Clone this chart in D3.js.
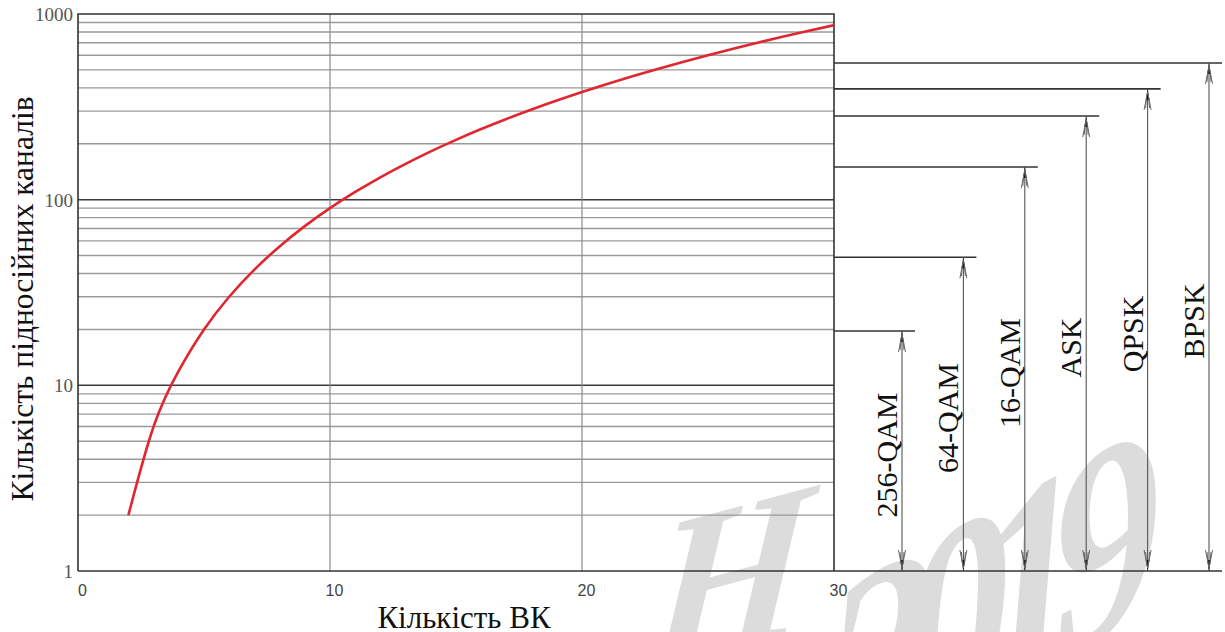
<!DOCTYPE html>
<html>
<head>
<meta charset="utf-8">
<script src="https://cdn.jsdelivr.net/npm/d3@7"></script>
<style>
  body { margin: 0; background: #fff; }
  svg { display: block; }
</style>
</head>
<body>
<svg></svg>
<script>
var width = 1225
var height = 632

// number of VK (x) and number of subcarriers (y)
var vkCount = [2, 3, 4, 5, 6, 7, 8, 9, 10, 11, 12, 13, 14, 15, 16, 17, 18, 19, 20, 21, 22, 23, 24, 25, 26, 27, 28, 29, 30]
var subcarriers = [2, 6, 12, 20, 30, 42, 56, 72, 90, 110, 132, 156, 182, 210, 240, 272, 306, 342, 380, 420, 462, 506, 552, 600, 650, 702, 756, 812, 870]

// modulation limits shown on the right
var modulations = ["256-QAM", "64-QAM", "16-QAM", "ASK", "QPSK", "BPSK"]
var modLimits = [19.6, 49, 150, 282, 395, 545]

var xTicks = [0, 10, 20, 30]
var yTicks = [1, 10, 100, 1000]

var xTitle = "Кількість ВК"
var yTitle = "Кількість підносійних каналів"
var watermarkA = "Н"
var watermarkB = "2019"

var plotLeft = 78, plotRight = 834, plotTop = 14, plotBottom = 571

var x = d3.scaleLinear().domain([0, 30]).range([plotLeft, plotRight])
var y = d3.scaleLog().domain([1, 1000]).range([plotBottom, plotTop])
var xMod = d3.scalePoint().domain(modulations).range([902, 1209])

var svg = d3.select("svg")
  .attr("width", width)
  .attr("height", height)

// watermark behind everything
var wm = svg.append("g")
  .style("font-family", "'Liberation Serif', serif")
  .style("font-style", "italic")
  .style("font-weight", "bold")
  .attr("fill", "#dcdcdc")

wm.append("text")
  .attr("transform", "translate(645,674) rotate(-15) skewX(-20)")
  .style("font-size", "210px")
  .text(watermarkA)

wm.append("text")
  .attr("transform", "translate(830,783) rotate(-28) skewX(-25)")
  .style("font-size", "250px")
  .style("letter-spacing", "-40px")
  .text(watermarkB)

// horizontal grid lines, 2..9 in every decade
var minor = []
for (var d = 1; d < 1000; d *= 10) {
  for (var k = 2; k < 10; k++) minor.push(d * k)
}

svg.append("g")
  .selectAll("line")
  .data(minor)
  .enter()
    .append("line")
    .attr("x1", plotLeft)
    .attr("x2", plotRight)
    .attr("y1", d => y(d))
    .attr("y2", d => y(d))
    .attr("stroke", "#9a9a9a")
    .attr("stroke-width", 1.4)

svg.append("g")
  .selectAll("line")
  .data([10, 100])
  .enter()
    .append("line")
    .attr("x1", plotLeft)
    .attr("x2", plotRight)
    .attr("y1", d => y(d))
    .attr("y2", d => y(d))
    .attr("stroke", "#3a3a3a")
    .attr("stroke-width", 1.5)

svg.append("g")
  .selectAll("line")
  .data([10, 20])
  .enter()
    .append("line")
    .attr("x1", d => x(d))
    .attr("x2", d => x(d))
    .attr("y1", plotTop)
    .attr("y2", plotBottom)
    .attr("stroke", "#8a8a8a")
    .attr("stroke-width", 1.2)

// frame
svg.append("path")
  .attr("d", "M" + plotLeft + "," + plotBottom + "V" + plotTop + "H" + plotRight + "V" + plotBottom)
  .attr("fill", "none")
  .attr("stroke", "#333")
  .attr("stroke-width", 1.6)

// bottom line runs under the arrows too
svg.append("line")
  .attr("x1", plotLeft)
  .attr("x2", 1222)
  .attr("y1", plotBottom)
  .attr("y2", plotBottom)
  .attr("stroke", "#333")
  .attr("stroke-width", 1.6)

// tick labels
svg.append("g")
  .selectAll("text")
  .data(yTicks)
  .enter()
    .append("text")
    .attr("x", plotLeft - 5)
    .attr("y", d => y(d) + 7)
    .attr("text-anchor", "end")
    .style("font-family", "'Liberation Serif', serif")
    .style("font-size", "19px")
    .attr("fill", "#555")
    .text(d => d)

svg.append("g")
  .selectAll("text")
  .data(xTicks)
  .enter()
    .append("text")
    .attr("x", d => x(d) + 4.5)
    .attr("y", plotBottom + 25)
    .attr("text-anchor", "middle")
    .style("font-family", "'Liberation Sans', sans-serif")
    .style("font-size", "16px")
    .attr("fill", "#444")
    .text(d => d)

// curve
var curve = vkCount.map((v, i) => [v, subcarriers[i]])

svg.append("path")
  .datum(curve)
  .attr("d", d3.line()
    .x(d => x(d[0]))
    .y(d => y(d[1]))
    .curve(d3.curveNatural))
  .attr("fill", "none")
  .attr("stroke", "#e0262f")
  .attr("stroke-width", 2.6)

// modulation levels with double arrows
var mods = modulations.map((m, i) => ({ name: m, value: modLimits[i] }))

var lev = svg.append("g")
  .selectAll("g")
  .data(mods)
  .enter()
    .append("g")

lev.append("line")
  .attr("x1", plotRight)
  .attr("x2", d => xMod(d.name) + 13)
  .attr("y1", d => y(d.value))
  .attr("y2", d => y(d.value))
  .attr("stroke", "#333")
  .attr("stroke-width", 1.6)

lev.append("line")
  .attr("x1", d => xMod(d.name))
  .attr("x2", d => xMod(d.name))
  .attr("y1", d => y(d.value))
  .attr("y2", plotBottom)
  .attr("stroke", "#555")
  .attr("stroke-width", 1.1)

function arrowHead(g, dir) {
  // dir 1 = head at the top pointing up, -1 = head at the bottom pointing down
  var pos = d => "translate(" + xMod(d.name) + "," + (dir > 0 ? y(d.value) : plotBottom) + ") scale(1," + dir + ")"
  g.append("path")
    .attr("transform", pos)
    .attr("d", "M0,0L-1.8,11L1.8,11Z")
    .attr("fill", "#111")
  g.append("path")
    .attr("transform", pos)
    .attr("d", "M0,3L-3.5,21M0,3L3.5,21M-1,8L-2,19M1,8L2,19")
    .attr("fill", "none")
    .attr("stroke", "#666")
    .attr("stroke-width", 1)
}
arrowHead(lev, 1)
arrowHead(lev, -1)

lev.append("text")
  .attr("transform", d => "translate(" + (xMod(d.name) - 5) + "," + ((y(d.value) + plotBottom) / 2 + 4) + ") rotate(-90)")
  .attr("text-anchor", "middle")
  .style("font-family", "'Liberation Serif', serif")
  .style("font-size", "30px")
  .attr("fill", "#111")
  .text(d => d.name)

// axis titles
svg.append("text")
  .attr("x", 464)
  .attr("y", 628)
  .attr("text-anchor", "middle")
  .style("font-family", "'Liberation Serif', serif")
  .style("font-size", "31px")
  .attr("fill", "#111")
  .text(xTitle)

svg.append("text")
  .attr("transform", "translate(33,299) rotate(-90)")
  .attr("text-anchor", "middle")
  .style("font-family", "'Liberation Serif', serif")
  .style("font-size", "31.5px")
  .attr("fill", "#111")
  .text(yTitle)
</script>
</body>
</html>
